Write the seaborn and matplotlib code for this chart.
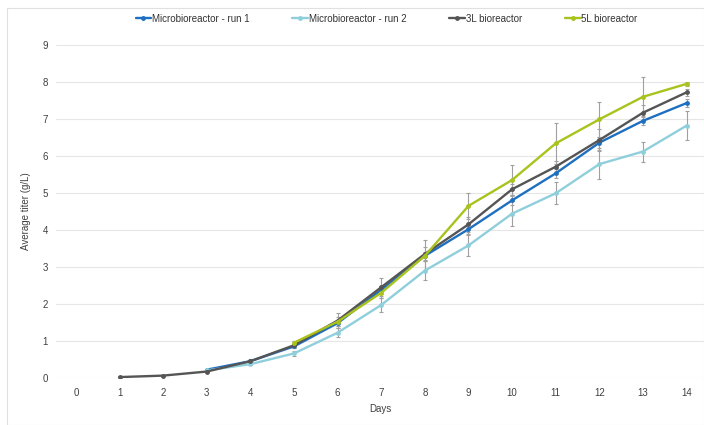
import numpy as np
import pandas as pd
import matplotlib
matplotlib.use("Agg")
import matplotlib.pyplot as plt
import seaborn as sns
from matplotlib.patches import Rectangle

days_run1 = [3, 4, 5, 6, 7, 8, 9, 10, 11, 12, 13, 14]
titer_run1 = [0.22, 0.45, 0.85, 1.48, 2.38, 3.3, 4.02, 4.8, 5.53, 6.36, 6.95, 7.43]
err_run1 = [0.02, 0.03, 0.05, 0.08, 0.1, 0.1, 0.12, 0.12, 0.12, 0.15, 0.12, 0.1]

days_run2 = [3, 4, 5, 6, 7, 8, 9, 10, 11, 12, 13, 14]
titer_run2 = [0.2, 0.37, 0.66, 1.22, 1.97, 2.9, 3.58, 4.44, 4.99, 5.78, 6.12, 6.82]
err_run2 = [0.02, 0.03, 0.06, 0.12, 0.2, 0.25, 0.28, 0.33, 0.3, 0.39, 0.27, 0.4]

days_3l = [1, 2, 3, 4, 5, 6, 7, 8, 9, 10, 11, 12, 13, 14]
titer_3l = [0.02, 0.06, 0.17, 0.45, 0.88, 1.55, 2.45, 3.35, 4.15, 5.1, 5.71, 6.43, 7.17, 7.72]
err_3l = [0.0, 0.0, 0.02, 0.03, 0.06, 0.2, 0.25, 0.2, 0.2, 0.15, 0.15, 0.3, 0.2, 0.1]

days_5l = [5, 6, 7, 8, 9, 10, 11, 12, 13, 14]
titer_5l = [0.95, 1.52, 2.3, 3.3, 4.65, 5.35, 6.34, 6.99, 7.6, 7.95]
err_5l = [0.05, 0.12, 0.15, 0.42, 0.35, 0.4, 0.55, 0.48, 0.54, 0.05]

series_names = ["Microbioreactor - run 1", "Microbioreactor - run 2",
                "3L bioreactor", "5L bioreactor"]
colors = ["#1f6fc0", "#8fcfdc", "#555555", "#a9c21c"]

frames = []
for name, d, t, e in zip(series_names,
                         [days_run1, days_run2, days_3l, days_5l],
                         [titer_run1, titer_run2, titer_3l, titer_5l],
                         [err_run1, err_run2, err_3l, err_5l]):
    frames.append(pd.DataFrame({"Days": d, "Titer": t, "Err": e, "Series": name}))
df = pd.concat(frames, ignore_index=True)

sns.set_style("white")
plt.rcParams["font.family"] = ["Liberation Sans", "DejaVu Sans"]

fig = plt.figure(figsize=(7.04, 4.25), dpi=100)
ax = fig.add_axes([0.08, 0.111, 0.92, 0.783])

# error bars first (gray), then lines on top
for name in series_names:
    sub = df[df["Series"] == name]
    ax.errorbar(sub["Days"], sub["Titer"], yerr=sub["Err"], fmt="none",
                ecolor="#a0a0a0", elinewidth=0.8, capsize=1.5, capthick=0.8, zorder=2)

sns.lineplot(data=df, x="Days", y="Titer", hue="Series", hue_order=series_names,
             palette=colors, marker="o", markersize=3.5, markeredgewidth=0,
             linewidth=1.7, ax=ax, zorder=3)

ax.set_xlim(-0.45, 14.4)
ax.set_ylim(0, 9)
ax.set_xticks(range(0, 15))
ax.set_yticks(range(0, 10))
ax.yaxis.grid(True, color="#e6e6e6", linewidth=0.8)
ax.xaxis.grid(False)
for s in ax.spines.values():
    s.set_visible(False)
ax.tick_params(axis="both", labelsize=7, colors="#404040", length=0)
ax.tick_params(axis="y", pad=6)
ax.tick_params(axis="x", pad=7)
ax.set_xlabel("Days", fontsize=7, color="#404040", labelpad=5)
ax.set_ylabel("Average titer (g/L)", fontsize=7, color="#404040", labelpad=8)

leg = ax.legend(loc="upper center", bbox_to_anchor=(0.51, 1.12), ncol=4,
                frameon=False, fontsize=7, handlelength=1.6, handletextpad=0.1,
                columnspacing=4.4)
for t in leg.get_texts():
    t.set_color("#333333")

fig.patches.append(Rectangle((0.01, 0.0), 0.99, 0.982, transform=fig.transFigure,
                             fill=False, edgecolor="#e0e0e0", linewidth=0.8, zorder=0))

fig.savefig("out.png", dpi=100)
